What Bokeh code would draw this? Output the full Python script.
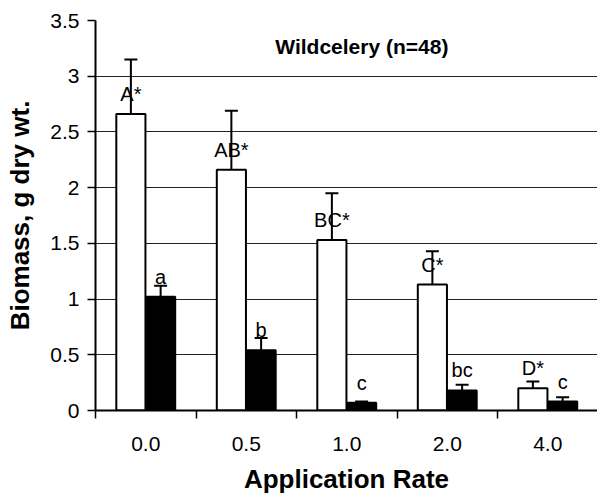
from bokeh.plotting import figure
from bokeh.models import FixedTicker, Whisker, TeeHead, Label, ColumnDataSource, Range1d
from bokeh.embed import file_html
from bokeh.resources import INLINE

rates = ["0.0", "0.5", "1.0", "2.0", "4.0"]
white_vals = [2.66, 2.16, 1.53, 1.13, 0.20]
white_err_top = [3.15, 2.69, 1.95, 1.43, 0.26]
white_letters = ["A*", "AB*", "BC*", "C*", "D*"]
black_vals = [1.02, 0.54, 0.07, 0.18, 0.08]
black_err_top = [1.12, 0.65, 0.08, 0.23, 0.12]
black_letters = ["a", "b", "c", "bc", "c"]
y_ticks = [0, 0.5, 1, 1.5, 2, 2.5, 3, 3.5]
y_tick_labels = ["0", "0.5", "1", "1.5", "2", "2.5", "3", "3.5"]
title_text = "Wildcelery (n=48)"

FONT = "Liberation Sans"
n = len(rates)
centers = [i + 0.5 for i in range(n)]
bar_w = 0.29
off = 0.148
wx = [c - off for c in centers]
bx = [c + off for c in centers]
lab_off = 0.18

p = figure(width=597, height=496, output_backend="svg", toolbar_location=None,
           x_range=Range1d(0, 4.995), y_range=Range1d(0, 3.5),
           min_border_left=95, min_border_right=0, min_border_top=20, min_border_bottom=10)
p.outline_line_color = None
p.background_fill_color = "white"

src_w = ColumnDataSource(dict(x=wx, top=white_vals, err=white_err_top, lab=white_letters,
                              ly=[v + lab_off for v in white_vals]))
src_b = ColumnDataSource(dict(x=bx, top=black_vals, err=black_err_top, lab=black_letters,
                              ly=[v + lab_off for v in black_vals]))

p.vbar(x="x", top="top", bottom=0, width=bar_w, source=src_w,
       fill_color="white", line_color="black", line_width=2)
p.vbar(x="x", top="top", bottom=0, width=bar_w, source=src_b,
       fill_color="black", line_color="black", line_width=2)

for src in (src_w, src_b):
    w = Whisker(base="x", upper="err", lower="top", source=src,
                line_color="black", line_width=2,
                upper_head=TeeHead(size=13, line_color="black", line_width=2),
                lower_head=None)
    p.add_layout(w)
    p.text(x="x", y="ly", text="lab", source=src, text_align="center",
           text_baseline="middle", text_font_size="20px", text_color="black",
           text_font={"value": FONT})

p.add_layout(Label(x=2.65, y=3.27, text=title_text, text_align="center",
                   text_baseline="middle", text_font=FONT, text_font_size="21px",
                   text_font_style="bold", text_color="black"))

# axes
p.xaxis.ticker = FixedTicker(ticks=centers, minor_ticks=list(range(0, n + 1)))
p.xaxis.major_label_overrides = {c: r for c, r in zip(centers, rates)}
p.xaxis.major_tick_line_color = None
p.xaxis.major_tick_out = 0
p.xaxis.major_tick_in = 0
p.xaxis.minor_tick_out = 8
p.xaxis.minor_tick_in = 0
p.xaxis.minor_tick_line_color = "black"
p.xaxis.minor_tick_line_width = 1.5
p.xaxis.major_label_standoff = 18
p.xaxis.axis_label = "Application Rate"
p.xaxis.axis_label_standoff = 10

p.yaxis.ticker = FixedTicker(ticks=y_ticks, minor_ticks=[])
p.yaxis.major_label_overrides = {t: l for t, l in zip(y_ticks, y_tick_labels)}
p.yaxis.major_tick_out = 8
p.yaxis.major_tick_in = 0
p.yaxis.major_tick_line_width = 1.5
p.yaxis.major_label_standoff = 8
p.yaxis.axis_label = "Biomass, g dry wt."
p.yaxis.axis_label_standoff = 12

for ax in (p.xaxis, p.yaxis):
    ax.axis_line_color = "black"
    ax.axis_line_width = 2
    ax.major_label_text_font = FONT
    ax.major_label_text_font_size = "21px"
    ax.major_label_text_color = "black"
    ax.axis_label_text_font = FONT
    ax.axis_label_text_font_size = "26px"
    ax.axis_label_text_font_style = "bold"
    ax.axis_label_text_color = "black"

p.xgrid.grid_line_color = None
p.ygrid.ticker = FixedTicker(ticks=y_ticks)
p.ygrid.grid_line_color = "#222222"
p.ygrid.grid_line_width = 1.2

open("out.html", "w").write(file_html(p, INLINE))
